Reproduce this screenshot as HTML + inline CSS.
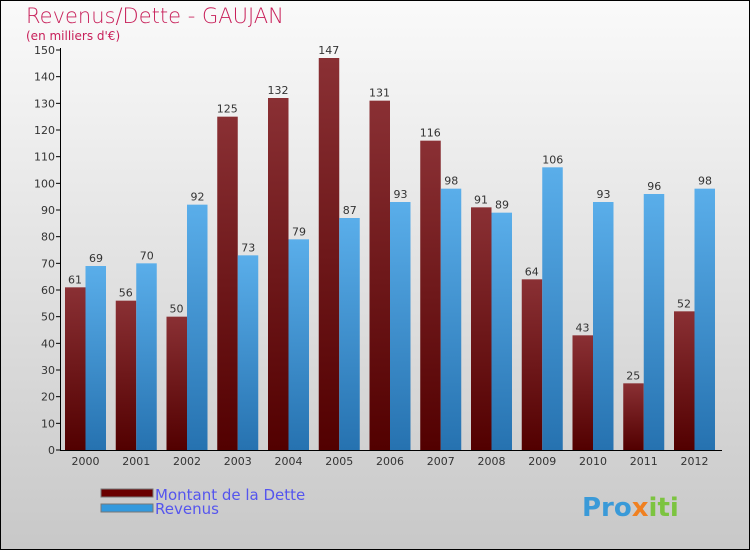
<!DOCTYPE html>
<html><head><meta charset="utf-8"><style>
body{margin:0}
#c{width:750px;height:550px;position:relative;font-family:"DejaVu Sans","Liberation Sans",sans-serif}
</style></head><body>
<div id="c">
<svg id="s" width="750" height="550" xmlns="http://www.w3.org/2000/svg">
<defs>
<linearGradient id="bg" x1="0" y1="0" x2="0" y2="1"><stop offset="0" stop-color="#fafafa"/><stop offset="1" stop-color="#c8c8c8"/></linearGradient>
<linearGradient id="gd" x1="0" y1="0" x2="0" y2="1"><stop offset="0" stop-color="#8a3034"/><stop offset="1" stop-color="#520000"/></linearGradient>
<linearGradient id="gr" x1="0" y1="0" x2="0" y2="1"><stop offset="0" stop-color="#5aaeea"/><stop offset="1" stop-color="#2672b0"/></linearGradient>
</defs>
<rect x="0.5" y="0.5" width="749" height="549" fill="url(#bg)" stroke="#000"/>
<text x="26" y="23" font-size="21" fill="#c8205a" font-weight="200">Revenus/Dette - GAUJAN</text>
<text x="26" y="40" font-size="12" fill="#c8205a">(en milliers d'€)</text>
<g id="plot"></g>
<g>
<rect x="101" y="489" width="52" height="8" fill="#6a0000" stroke="#777"/>
<text x="155" y="500" font-size="15" fill="#5555ee">Montant de la Dette</text>
<rect x="101" y="504" width="52" height="8" fill="#3399dd" stroke="#777"/>
<text x="155" y="514" font-size="15" fill="#5555ee">Revenus</text>
</g>
<text x="582" y="516" font-size="26" font-weight="bold" fill="#3a9ad8">Pro<tspan fill="#f08020">x</tspan><tspan fill="#7cc440">iti</tspan></text>
</svg>
</div>
<script>
const years=["2000","2001","2002","2003","2004","2005","2006","2007","2008","2009","2010","2011","2012"];
const dette=[61,56,50,125,132,147,131,116,91,64,43,25,52];
const revenus=[69,70,92,73,79,87,93,98,89,106,93,96,98];
const ticks=[0,10,20,30,40,50,60,70,80,90,100,110,120,130,140,150];
const NS="http://www.w3.org/2000/svg";
const g=document.getElementById('plot');
const y0=450,ppu=400/150;
function Y(v){return y0-v*ppu;}
function X(i){return 65+i*50.75;}
function mk(t,a){const e=document.createElementNS(NS,t);for(const k in a)e.setAttribute(k,a[k]);g.appendChild(e);return e;}
ticks.forEach(t=>{
 const l=mk('line',{x1:56,x2:61,y1:Y(t),y2:Y(t),stroke:'#000'});
 
 
 const tx=mk('text',{x:55,y:Y(t)+4,'font-size':11,fill:'#333','text-anchor':'end'});
 tx.textContent=t;
 
 
});
years.forEach((yr,i)=>{
 const x=X(i);
 const a=mk('rect',{x:x,y:Y(dette[i]),width:20.5,height:dette[i]*ppu,fill:'url(#gd)'});
 
 
 const b=mk('rect',{x:x+20.5,y:Y(revenus[i]),width:20.5,height:revenus[i]*ppu,fill:'url(#gr)'});
 
 
 const t1=mk('text',{x:x+10,y:Y(dette[i])-4,'font-size':11,fill:'#333','text-anchor':'middle'});
 t1.textContent=dette[i];
 
 
 const t2=mk('text',{x:x+31,y:Y(revenus[i])-4,'font-size':11,fill:'#333','text-anchor':'middle'});
 t2.textContent=revenus[i];
 
 
 const xl=mk('text',{x:x+20.5,y:465,'font-size':11,fill:'#333','text-anchor':'middle'});
 xl.textContent=yr;
 
 
});
const ya=mk('line',{x1:60.5,x2:60.5,y1:48,y2:451,stroke:'#000'});


const xa=mk('line',{x1:60,x2:722,y1:450.5,y2:450.5,stroke:'#000'});


</script>
</body></html>
